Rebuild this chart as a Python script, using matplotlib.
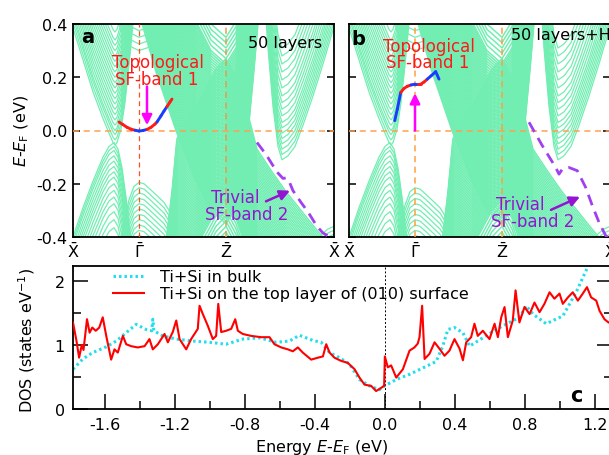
import numpy as np
import matplotlib
matplotlib.use('Agg')
import matplotlib.pyplot as plt
from matplotlib.ticker import MultipleLocator, FormatStrFormatter, FixedLocator

plt.rcParams['font.family'] = ['DejaVu Sans']
plt.rcParams['axes.unicode_minus'] = False
plt.rcParams['mathtext.fontset'] = 'dejavusans'

# ---------------- data ----------------
# high-symmetry path positions (path length units) and labels
kpath_pos = [0, 66, 153, 261]
kpath_lab = [r'$\bar{\mathrm{X}}$', r'$\bar{\Gamma}$', r'$\bar{\mathrm{Z}}$', r'$\bar{\mathrm{X}}$']
band_yticks = [-0.4, -0.2, 0.0, 0.2, 0.4]

# slab sub-band families: base dispersion (k, E) and energy offsets of the nested sub-bands
lc_k = [-10, 0, 10, 20, 30, 36, 40, 42, 44, 48, 52, 56, 60, 66]
lc_e = [0.56, 0.44, 0.32, 0.2, 0.1, 0.045, 0.01, 0.0, 0.01, 0.06, 0.16, 0.3, 0.46, 0.7]
lc_off = [-0.055, -0.035, -0.015, 0.0, 0.02, 0.04, 0.06, 0.08, 0.1, 0.12, 0.14, 0.16, 0.18,
          0.2, 0.22, 0.24, 0.26, 0.28, 0.3, 0.32, 0.34, 0.37, 0.4]

lv_k = [-10, 0, 10, 20, 30, 36, 41, 45, 49, 53, 57, 62]
lv_e = [-0.52, -0.4, -0.29, -0.19, -0.1, -0.06, -0.045, -0.07, -0.14, -0.25, -0.38, -0.55]
lv_off = [0.0, -0.015, -0.03, -0.05, -0.07, -0.09, -0.11, -0.13, -0.155, -0.18, -0.205,
          -0.23, -0.26, -0.29, -0.32]

gc_k = [30, 40, 50, 58, 66, 74, 84, 94, 104]
gc_e = [0.6, 0.45, 0.36, 0.315, 0.3, 0.31, 0.34, 0.4, 0.5]
gc_off = [0.0, 0.025, 0.05, 0.075, 0.1]

gb_k = [44, 50, 56, 61, 66, 71, 77, 84, 91, 96, 100, 104]
gb_e = [-0.5, -0.36, -0.26, -0.21, -0.195, -0.2, -0.22, -0.245, -0.27, -0.3, -0.36, -0.5]
gb_off_a = [0.0, -0.02, -0.04, -0.06, -0.08, -0.1, -0.12, -0.14, -0.16, -0.18, -0.2]
gb_off_b = [-0.02, -0.04, -0.06, -0.08, -0.1, -0.12, -0.14, -0.16, -0.18, -0.2, -0.22]

zc_k = [43, 63, 83, 103, 123, 138, 153, 163, 170, 176, 181, 186]
zc_e = [1.05, 0.83, 0.57, 0.35, 0.16, 0.05, 0.0, 0.06, 0.2, 0.38, 0.58, 0.8]
zc_off = [-0.35, -0.34, -0.33, -0.32, -0.31, -0.3, -0.29, -0.28, -0.27, -0.26, -0.25, -0.24,
          -0.23, -0.22, -0.21, -0.2, -0.19, -0.18, -0.17, -0.16, -0.15, -0.14, -0.13, -0.12,
          -0.11, -0.1, -0.09, -0.08, -0.07, -0.06, -0.05, -0.04, -0.03, -0.02, -0.01, 0.0,
          0.01, 0.02, 0.03, 0.04, 0.05, 0.06, 0.07, 0.08, 0.09, 0.1, 0.11, 0.12, 0.13, 0.14,
          0.15, 0.16, 0.17, 0.18, 0.19, 0.2, 0.21, 0.22, 0.23, 0.24, 0.25, 0.27, 0.29, 0.31,
          0.33, 0.35]

zv_k = [80, 92, 99, 104, 113, 123, 133, 143, 153, 163, 173, 184, 198, 213, 228, 243, 261, 280]
zv_e = [-1.1, -0.72, -0.5, -0.3, -0.24, -0.18, -0.11, -0.04, 0.0, -0.07, -0.18, -0.34,
        -0.42, -0.5, -0.57, -0.64, -0.72, -0.8]
zv_off = [0.27, 0.26, 0.25, 0.24, 0.23, 0.22, 0.21, 0.2, 0.19, 0.18, 0.17, 0.16, 0.15, 0.14,
          0.13, 0.12, 0.11, 0.1, 0.09, 0.08, 0.07, 0.06, 0.05, 0.04, 0.03, 0.02, 0.01, 0.0,
          -0.01, -0.02, -0.03, -0.04, -0.05, -0.06, -0.07, -0.08, -0.09, -0.1, -0.11, -0.12,
          -0.13, -0.14, -0.15, -0.16, -0.17, -0.18, -0.19, -0.2, -0.21, -0.22, -0.23, -0.24,
          -0.25, -0.26, -0.28, -0.3, -0.32, -0.34, -0.36, -0.38, -0.4]

ru_k = [185, 190, 195, 200, 205, 209, 215, 222, 230, 240, 250, 261, 272]
ru_e = [1.0, 0.7, 0.42, 0.2, 0.05, 0.0, 0.015, 0.05, 0.13, 0.24, 0.36, 0.5, 0.65]
ru_off = [-0.11, -0.09, -0.07, -0.05, -0.03, -0.01, 0.01, 0.03, 0.055, 0.08, 0.105, 0.13,
          0.16, 0.19, 0.22, 0.25, 0.28, 0.31]

xv_k = [200, 215, 230, 245, 255, 261, 270]
xv_e = [-0.75, -0.6, -0.48, -0.4, -0.37, -0.36, -0.37]
xv_off = [0.0, -0.015, -0.03, -0.045, -0.06]

# surface bands
sf1a_k = [46, 50, 54, 58, 62, 66, 70, 74, 78, 82, 84, 88, 91, 94, 97, 99]
sf1a_e = [0.032, 0.022, 0.012, 0.005, 0.001, -0.002, 0.0, 0.004, 0.012, 0.024, 0.032, 0.055,
          0.073, 0.09, 0.107, 0.118]
sf1a_c = ['r', 'r', 'r', 'r', 'b', 'b', 'b', 'r', 'r', 'r', 'b', 'b', 'b', 'r', 'r']

sf1b_k = [45.7, 48.3, 51.7, 55, 58.3, 62, 66, 69, 71.7, 75, 78.3, 82, 86.7, 90]
sf1b_e = [0.037, 0.08, 0.143, 0.158, 0.166, 0.171, 0.174, 0.174, 0.174, 0.182, 0.193, 0.205,
          0.221, 0.193]
sf1b_c = ['b', 'b', 'r', 'r', 'r', 'b', 'b', 'r', 'r', 'r', 'b', 'b', 'b']

sf2a_k = [184, 193, 204, 210, 213, 216, 220, 228, 235, 244, 250, 257, 263]
sf2a_e = [-0.045, -0.09, -0.156, -0.18, -0.178, -0.19, -0.226, -0.27, -0.306, -0.36, -0.385,
          -0.4, -0.41]

sf2b_k = [180, 193.3, 206.7, 210, 213.3, 220, 228.3, 236.7, 243.3, 250, 256.7, 262]
sf2b_e = [0.031, -0.057, -0.139, -0.164, -0.145, -0.139, -0.151, -0.214, -0.282, -0.345,
          -0.395, -0.41]

# DOS (states/eV) vs energy (eV)
bulk_e = [-1.78, -1.724, -1.667, -1.59, -1.533, -1.476, -1.419, -1.362, -1.33, -1.324, -1.318,
          -1.267, -1.19, -1.095, -1.0, -0.905, -0.81, -0.714, -0.619, -0.543, -0.486, -0.41,
          -0.362, -0.314, -0.257, -0.2, -0.143, -0.086, -0.029, 0.0, 0.067, 0.143, 0.219, 0.295,
          0.333, 0.362, 0.40, 0.448, 0.486, 0.562, 0.638, 0.714, 0.771, 0.81, 0.848, 0.924,
          1.019, 1.095, 1.152, 1.19]
bulk_d = [0.62, 0.78, 0.88, 0.97, 1.06, 1.19, 1.32, 1.24, 1.22, 1.40, 1.22, 1.14, 1.09, 1.06,
          1.04, 1.01, 1.09, 1.11, 1.04, 1.06, 1.15, 1.07, 1.04, 0.88, 0.80, 0.70, 0.46, 0.36,
          0.30, 0.36, 0.46, 0.54, 0.64, 0.74, 0.98, 1.24, 1.27, 1.19, 0.98, 1.11, 1.24, 1.35,
          1.43, 1.61, 1.48, 1.33, 1.45, 1.82, 2.16, 2.35]

surf_e = [-1.78, -1.76, -1.745, -1.73, -1.72, -1.70, -1.685, -1.67, -1.65, -1.63, -1.61, -1.59,
          -1.562, -1.543, -1.524, -1.495, -1.476, -1.448, -1.41, -1.371, -1.343, -1.324, -1.295,
          -1.276, -1.257, -1.238, -1.21, -1.19, -1.171, -1.133, -1.105, -1.067, -1.057, -1.038,
          -1.01, -0.981, -0.962, -0.95, -0.933, -0.905, -0.876, -0.853, -0.838, -0.81, -0.762,
          -0.705, -0.657, -0.629, -0.59, -0.552, -0.524, -0.495, -0.467, -0.419, -0.381, -0.352,
          -0.333, -0.314, -0.286, -0.248, -0.21, -0.171, -0.143, -0.114, -0.076, -0.048, -0.019,
          -0.002, 0.002, 0.019, 0.038, 0.067, 0.105, 0.143, 0.171, 0.19, 0.2, 0.215, 0.229, 0.257,
          0.286, 0.314, 0.343, 0.371, 0.40, 0.429, 0.448, 0.467, 0.495, 0.514, 0.533, 0.562, 0.60,
          0.629, 0.648, 0.667, 0.686, 0.705, 0.733, 0.749, 0.771, 0.80, 0.829, 0.857, 0.886,
          0.914, 0.943, 0.971, 1.0, 1.019, 1.048, 1.076, 1.105, 1.133, 1.157, 1.181, 1.21, 1.229,
          1.257, 1.28, 1.30]
surf_d = [1.35, 1.06, 0.80, 1.0, 0.92, 1.40, 1.19, 1.27, 1.22, 1.27, 1.43, 1.14, 0.77, 0.93,
          0.88, 1.14, 1.01, 0.98, 0.96, 0.98, 1.09, 0.93, 1.01, 1.09, 1.17, 1.04, 1.20, 1.38,
          1.09, 0.93, 1.09, 1.25, 1.61, 1.48, 1.30, 1.09, 1.14, 1.64, 1.20, 1.22, 1.25, 1.40,
          1.22, 1.17, 1.14, 1.12, 1.12, 1.01, 0.96, 0.93, 0.90, 0.96, 0.88, 0.77, 0.80, 0.82,
          1.01, 0.88, 0.80, 0.75, 0.72, 0.62, 0.49, 0.38, 0.36, 0.28, 0.33, 0.36, 0.82, 0.65,
          0.68, 0.49, 0.62, 0.91, 0.96, 1.02, 1.12, 1.61, 0.78, 0.86, 1.04, 0.94, 0.83, 0.91,
          1.09, 0.94, 0.76, 1.04, 1.12, 1.33, 1.14, 1.22, 1.09, 1.33, 1.12, 1.43, 1.59, 1.12,
          1.38, 1.85, 1.35, 1.59, 1.48, 1.66, 1.51, 1.64, 1.82, 1.72, 1.80, 1.64, 1.74, 1.82,
          1.69, 1.80, 1.90, 1.74, 1.69, 1.53, 1.40, 1.35, 1.33]

# ---------------- figure ----------------
W, H = 609, 456
fig = plt.figure(figsize=(W / 100, H / 100), dpi=100)


def fr(l, t, r, b):
    return [l / W, 1 - b / H, (r - l) / W, (b - t) / H]


axa = fig.add_axes(fr(73, 25, 334, 238))
axb = fig.add_axes(fr(349, 25, 610, 238))
axc = fig.add_axes(fr(73, 267, 612, 410))

GREEN = '#72EEB2'
RED = '#ff1a1a'
BLUE = '#1a3cff'
MAG = '#ff00ff'
PURP_LINE = '#a040f0'
PURP_TXT = '#9514d2'
FS = 11.5


def fam(ax, k, e, offs, lw=0.9):
    e = np.asarray(e)
    for o in offs:
        ax.plot(k, e + o, color=GREEN, lw=lw, zorder=1, solid_joinstyle='round')


def sf1(ax, k, e, cols):
    for i, c in enumerate(cols):
        ax.plot(k[i:i + 2], e[i:i + 2], color=RED if c == 'r' else BLUE, lw=2.1,
                solid_capstyle='round', zorder=5)


for ax, gboff in ((axa, gb_off_a), (axb, gb_off_b)):
    fam(ax, lc_k, lc_e, lc_off)
    fam(ax, lv_k, lv_e, lv_off)
    fam(ax, gc_k, gc_e, gc_off)
    fam(ax, gb_k, gb_e, gboff)
    fam(ax, zc_k, zc_e, zc_off, lw=1.1)
    fam(ax, zv_k, zv_e, zv_off, lw=1.1)
    fam(ax, ru_k, ru_e, ru_off)
    fam(ax, xv_k, xv_e, xv_off)
    ax.set_xlim(0, 261)
    ax.set_ylim(-0.4, 0.4)
    ax.set_xticks(kpath_pos)
    ax.set_xticklabels(kpath_lab)
    ax.tick_params(axis='x', length=0, pad=3, labelsize=FS)
    ax.set_yticks(band_yticks)
    ax.yaxis.set_major_formatter(FormatStrFormatter('%.1f'))
    ax.tick_params(axis='y', direction='in', length=5, width=1.1, left=True, right=True,
                   labelsize=FS, pad=4)
    for s in ax.spines.values():
        s.set_linewidth(1.3)
    ax.axhline(0, color='#ffa050', lw=1.1, ls=(0, (4, 3)), zorder=3)

axb.tick_params(axis='y', labelleft=False)

# reference lines
axa.axvline(kpath_pos[1], color='#ff5020', lw=0.9, ls=(0, (4, 3)), zorder=3)
axa.axvline(kpath_pos[2], color='#e0a050', lw=1.1, ls=(0, (4, 3)), zorder=3)
axb.axvline(kpath_pos[1], color='#ffa040', lw=1.1, ls=(0, (4, 3)), zorder=3)
axb.axvline(kpath_pos[2], color='#ffa040', lw=1.1, ls=(0, (4, 3)), zorder=3)

# surface bands
sf1(axa, sf1a_k, sf1a_e, sf1a_c)
sf1(axb, sf1b_k, sf1b_e, sf1b_c)
axa.plot(sf2a_k, sf2a_e, color=PURP_LINE, lw=2.0, ls=(0, (4, 2.5)), zorder=5)
axb.plot(sf2b_k, sf2b_e, color=PURP_LINE, lw=2.0, ls=(0, (4, 2.5)), zorder=5)

# arrows
arr = dict(arrowstyle='-|>', lw=1.8, mutation_scale=15, shrinkA=0, shrinkB=0)
axa.annotate('', xy=(74, 0.02), xytext=(74, 0.165), arrowprops=dict(color=MAG, **arr), zorder=6)
axb.annotate('', xy=(66, 0.14), xytext=(66, 0.0), arrowprops=dict(color=MAG, **arr), zorder=6)
axa.annotate('', xy=(217, -0.226), xytext=(193, -0.266), arrowprops=dict(color=PURP_TXT, **arr), zorder=6)
axb.annotate('', xy=(231, -0.249), xytext=(202, -0.298), arrowprops=dict(color=PURP_TXT, **arr), zorder=6)

# texts
tk = dict(ha='center', va='center', fontsize=12, zorder=7)
axa.text(85, 0.258, 'Topological', color=RED, **tk)
axa.text(83.5, 0.193, 'SF-band 1', color=RED, **tk)
axb.text(80, 0.319, 'Topological', color=RED, **tk)
axb.text(78.3, 0.256, 'SF-band 1', color=RED, **tk)
axa.text(162, -0.251, 'Trivial', color=PURP_TXT, **tk)
axa.text(173.5, -0.314, 'SF-band 2', color=PURP_TXT, **tk)
axb.text(171.7, -0.276, 'Trivial', color=PURP_TXT, **tk)
axb.text(183.3, -0.339, 'SF-band 2', color=PURP_TXT, **tk)
axa.text(212, 0.33, '50 layers', ha='center', va='center', fontsize=FS, zorder=7)
axb.text(162, 0.362, '50 layers+H', ha='left', va='center', fontsize=FS, zorder=7)
axa.text(15, 0.354, 'a', ha='center', va='center', fontsize=14, fontweight='bold', zorder=7)
axb.text(9.3, 0.344, 'b', ha='center', va='center', fontsize=14, fontweight='bold', zorder=7)

axa.set_ylabel(r'$E$-$E_{\mathrm{F}}$ (eV)', fontsize=FS)
axa.yaxis.set_label_coords((31 - 73) / 261, 0.5)

# ---------------- DOS panel ----------------
axc.plot(bulk_e, bulk_d, color='#22DDEE', lw=2.2, ls=(0, (0.8, 1.0)), label='Ti+Si in bulk', zorder=2)
axc.plot(surf_e, surf_d, color='#ff0000', lw=1.5, label='Ti+Si on the top layer of (010) surface', zorder=3)
axc.axvline(0, color='k', lw=0.7, ls=(0, (2, 2)), zorder=1)
axc.set_xlim(-1.78, 1.30)
axc.set_ylim(0, 2.23)
axc.xaxis.set_major_locator(FixedLocator([-1.6, -1.2, -0.8, -0.4, 0.0, 0.4, 0.8, 1.2]))
axc.xaxis.set_minor_locator(MultipleLocator(0.2))
axc.xaxis.set_major_formatter(FormatStrFormatter('%.1f'))
axc.yaxis.set_major_locator(FixedLocator([0, 1, 2]))
axc.yaxis.set_minor_locator(MultipleLocator(0.5))
axc.tick_params(which='both', direction='in', labelsize=FS, width=1.1, top=False, right=True)
axc.tick_params(which='major', length=11, pad=6)
axc.tick_params(which='minor', length=6)
for s in axc.spines.values():
    s.set_linewidth(1.3)
axc.set_ylabel(r'DOS (states eV$^{-1}$)', fontsize=FS)
axc.yaxis.set_label_coords((37 - 73) / 539, 0.49)
axc.set_xlabel(r'Energy $E$-$E_{\mathrm{F}}$ (eV)', fontsize=FS)
axc.xaxis.set_label_coords((322 - 73) / 539, -(438 - 410) / 143)
axc.legend(loc='upper left', bbox_to_anchor=(0.069, 1.0), frameon=False, fontsize=FS,
           handlelength=1.9, handletextpad=1.0, borderpad=0.2, labelspacing=0.12,
           borderaxespad=0)
axc.text(1.097, 0.22, 'c', ha='center', va='center', fontsize=15, fontweight='bold')

fig.savefig('out.png', dpi=100)
